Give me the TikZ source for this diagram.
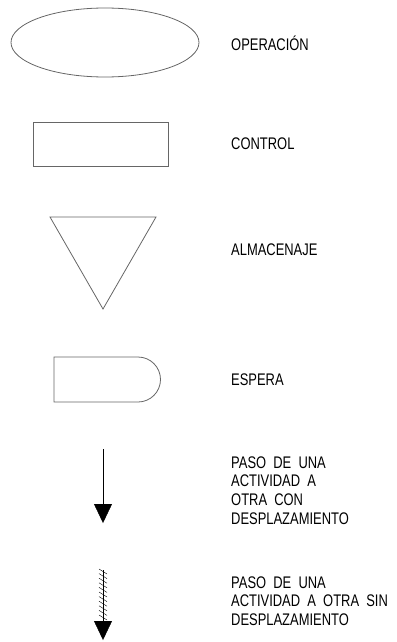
\documentclass[tikz,border=0pt]{standalone}
\usepackage{fontspec}
\newfontfamily\cadfont{Liberation Sans}[FakeStretch=0.77]
\usetikzlibrary{scopes,arrows.meta,shapes.geometric}

\begin{document}
\begin{tikzpicture}[x=1pt,y=-1pt,
    symbol/.style={draw=black!60,line width=0.8pt},
    flow/.style={-{Triangle[width=18pt,length=19pt]},draw=black,thin},
    hatch/.style={draw=black,thin},
    desc/.style={anchor=west,inner sep=0pt,align=left,font=\cadfont\fontsize{16.8}{18.6}\selectfont},
]
    \useasboundingbox (0,0) rectangle (396,642);

    %%%
    % Operacion
    \node[symbol,ellipse,minimum width=188pt,minimum height=69pt,inner sep=0pt] (op) at (105,42.5) {};
    \node[desc] (opT) at (231,43) {OPERACIÓN};

    %%%
    % Control
    \node[symbol,rectangle,minimum width=135pt,minimum height=44pt,inner sep=0pt] (ctrl) at (100.5,144) {};
    \node[desc] (ctrlT) at (231,144) {CONTROL};

    %%%
    % Almacenaje
    {[symbol]
        \draw (50,217) coordinate (alA) -- (156,217) coordinate (alB) -- (103,309) coordinate (alC) -- cycle;
    }
    \node[desc] (alT) at (231,250) {ALMACENAJE};

    %%%
    % Espera
    {[symbol]
        \draw (138,357) -- (54,357) -- (54,402) -- (138,402) arc[start angle=-90,end angle=90,radius=22.5pt];
    }
    \node[desc] (espT) at (231,380) {ESPERA};

    %%%
    % Paso con desplazamiento
    \coordinate (conA) at (103,449);
    \coordinate (conB) at (103,523);
    \draw[flow] (conA) -- (conB);
    \node[desc] (conT) at (231,490.5) {PASO\ \ DE\ \ UNA\\ACTIVIDAD\ \ A\\OTRA\ \ CON\\DESPLAZAMIENTO};

    %%%
    % Paso sin desplazamiento
    \coordinate (sinA) at (103,570);
    \coordinate (sinB) at (103,640);
    \draw[flow] (sinA) -- (sinB);
    {[hatch]
        \foreach \k in {0,...,10}
            \draw (99,569+4.6*\k) -- ++(8,5);
    }
    \node[desc] (sinT) at (231,601) {PASO\ \ DE\ \ UNA\\ACTIVIDAD\ \ A\ \ OTRA\ \ SIN\\DESPLAZAMIENTO};

\end{tikzpicture}
\end{document}
